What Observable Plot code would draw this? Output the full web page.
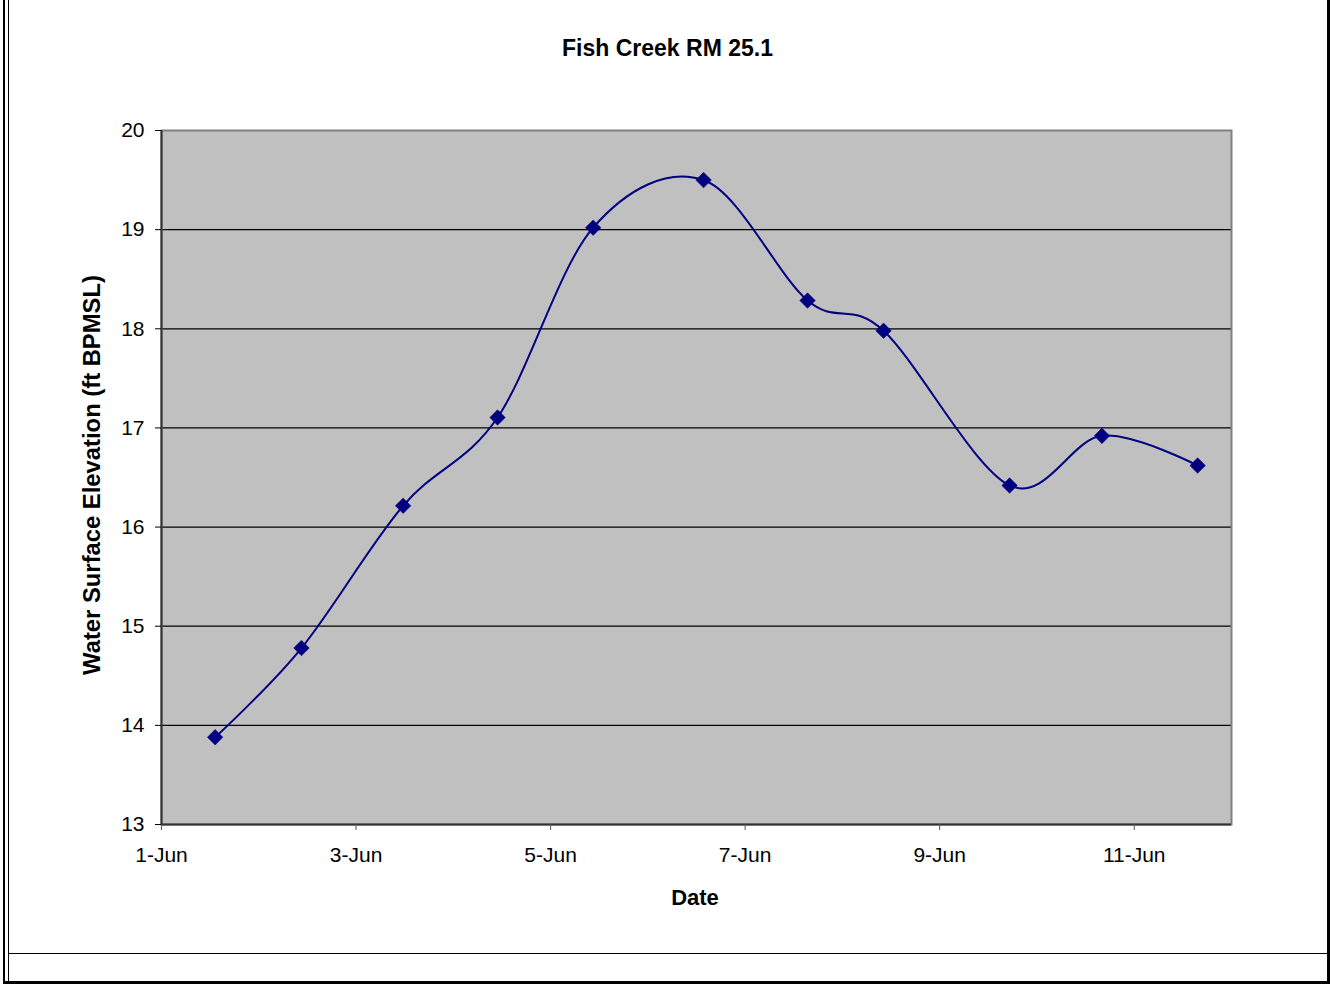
<!DOCTYPE html>
<html>
<head>
<meta charset="utf-8">
<script src="https://cdn.jsdelivr.net/npm/d3@7"></script>
<script src="https://cdn.jsdelivr.net/npm/@observablehq/plot@0.6"></script>
<style>
  html, body { margin: 0; padding: 0; background: #fff; }
  #wrap { position: relative; width: 1330px; height: 984px; overflow: hidden; font-family: "Liberation Sans", Arial, sans-serif; }
  #chart { position: absolute; left: 0; top: 0; }
  .lbl { position: absolute; white-space: nowrap; line-height: 1; font-weight: bold; color: #000; }
  .bd { position: absolute; background: #000; }
</style>
</head>
<body>
<div id="wrap">
  <div id="chart"></div>
  <div class="lbl" id="title" style="font-size:23px; left:667.5px; top:36.5px; transform:translateX(-50%);">Fish Creek RM 25.1</div>
  <div class="lbl" id="xtitle" style="font-size:22px; left:695px; top:887.4px; transform:translateX(-50%);">Date</div>
  <div class="lbl" id="ytitle" style="font-size:23.8px; left:92.4px; top:475px; transform:translate(-50%,-50%) rotate(-90deg);">Water Surface Elevation (ft BPMSL)</div>
  <div class="bd" style="left:3px; top:0; width:2px; height:984px;"></div>
  <div class="bd" style="left:8px; top:0; width:1px; height:984px;"></div>
  <div class="bd" style="left:1327px; top:0; width:3px; height:984px;"></div>
  <div class="bd" style="left:8px; top:953px; width:1322px; height:1px;"></div>
  <div class="bd" style="left:3px; top:981px; width:1327px; height:3px;"></div>
</div>
<script>
// Observation times (UTC) and water surface elevations (ft BPMSL)
const times = [
  "2007-06-01T13:14", "2007-06-02T10:32", "2007-06-03T11:37", "2007-06-04T10:55",
  "2007-06-05T10:30", "2007-06-06T13:45", "2007-06-07T15:24", "2007-06-08T10:09",
  "2007-06-09T17:15", "2007-06-10T16:02", "2007-06-11T15:39"
];
const elevations = [13.88, 14.78, 16.215, 17.105, 19.02, 19.50, 18.285, 17.98, 16.42, 16.92, 16.62];

const xDomain = ["2007-06-01", "2007-06-12"];
const xTicks = ["2007-06-01", "2007-06-03", "2007-06-05", "2007-06-07", "2007-06-09", "2007-06-11"];
const yTicks = [13, 14, 15, 16, 17, 18, 19, 20];

const data = times.map((t, i) => ({date: new Date(t + "Z"), value: elevations[i]}));
const xDom = xDomain.map(d => new Date(d + "T00:00Z"));
const xTickDates = xTicks.map(d => new Date(d + "T00:00Z"));
const gridValues = yTicks.slice(1, -1);

const plot = Plot.plot({
  width: 1330,
  height: 984,
  marginLeft: 161,
  marginRight: 99,
  marginTop: 130,
  marginBottom: 160,
  style: {fontFamily: '"Liberation Sans", Arial, sans-serif', fontSize: "21px", color: "#000", background: "transparent"},
  x: {type: "utc", domain: xDom},
  y: {domain: [yTicks[0], yTicks[yTicks.length - 1]]},
  marks: [
    Plot.frame({fill: "#c0c0c0", stroke: null}),
    Plot.ruleY(gridValues, {stroke: "#000", strokeWidth: 1.2}),
    Plot.frame({stroke: "#808080", strokeWidth: 2}),
    Plot.ruleX([xDom[0]], {stroke: "#333", strokeWidth: 2}),
    Plot.ruleY([yTicks[0]], {stroke: "#333", strokeWidth: 2}),
    Plot.axisX({ticks: xTickDates, tickFormat: d3.utcFormat("%-d-%b"), tickSize: 6, tickPadding: 17, label: null, stroke: "#555"}),
    Plot.axisY({ticks: yTicks, tickFormat: d3.format("d"), tickSize: 6, tickPadding: 11, label: null}),
    Plot.line(data, {x: "date", y: "value", stroke: "#000080", strokeWidth: 2, curve: "cardinal"}),
    Plot.dot(data, {x: "date", y: "value", symbol: "diamond2", r: 7, fill: "#000080", stroke: "#000080", strokeWidth: 0.5})
  ]
});
document.getElementById("chart").appendChild(plot);
</script>
</body>
</html>
